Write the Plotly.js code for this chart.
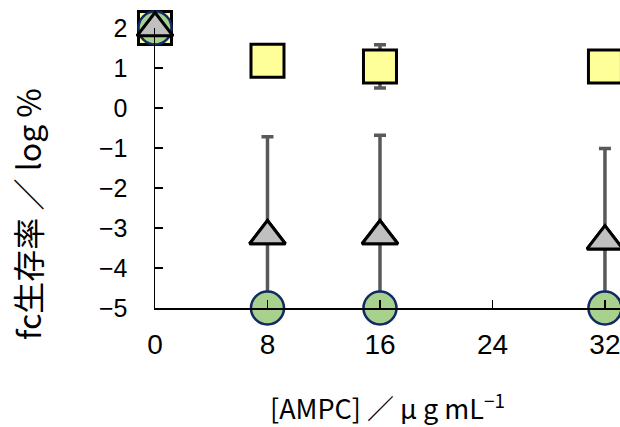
<!DOCTYPE html>
<html><head><meta charset="utf-8">
<script src="https://cdn.plot.ly/plotly-3.0.1.min.js"></script>
<style>html,body{margin:0;padding:0;background:#fff}#chart{width:620px;height:427px}</style>
</head><body><div id="chart"></div>
<script>
// Data
const conc = [0, 8, 16, 32];
const squareY = [2, 1.18, 1.04, 1.04];
const squareErr = [0, 0, 0.54, 0];
const triangleY = [2, -3.2, -3.2, -3.33];
const triangleErrPlus = [0, 2.48, 2.52, 2.32];
const triangleErrMinus = [0, 1.8, 1.8, 1.67];
const circleY = [2, -5, -5, -5];
const xTicks = [0, 8, 16, 24, 32];
const yTicks = [-5, -4, -3, -2, -1, 0, 1, 2];

const errColor = '#595959';
const traces = [
  {x: conc, y: squareY, mode: 'markers', type: 'scatter', cliponaxis: false,
   marker: {symbol: 'square', size: 33, color: '#FFFF99', line: {color: '#000', width: 3}},
   error_y: {type: 'data', array: squareErr, visible: true, color: errColor, thickness: 3.5, width: 6}},
  {x: conc, y: triangleY, mode: 'markers', type: 'scatter', cliponaxis: false,
   marker: {symbol: 'triangle-up', size: 31, color: '#C0C0C0', line: {color: '#000', width: 3}},
   error_y: {type: 'data', symmetric: false, array: triangleErrPlus, arrayminus: triangleErrMinus,
             visible: true, color: errColor, thickness: 3.5, width: 6}},
  {x: conc, y: circleY, mode: 'markers', type: 'scatter', cliponaxis: false,
   marker: {symbol: 'circle', size: 33, color: '#A9D18E', line: {color: '#102A63', width: 2.5}}},
  {x: conc, y: triangleY, mode: 'markers', type: 'scatter', cliponaxis: false,
   marker: {symbol: 'triangle-up', size: 31, color: '#C0C0C0', line: {color: '#000', width: 3}}}
];

const layout = {
  width: 620, height: 427,
  margin: {l: 155, r: 0, t: 28, b: 119},
  paper_bgcolor: '#fff', plot_bgcolor: 'rgba(0,0,0,0)',
  showlegend: false,
  xaxis: {range: [0, 33.07], tickvals: xTicks, ticktext: xTicks.map(String),
          showgrid: false, zeroline: false, showline: true, linecolor: '#000', linewidth: 1.5,
          ticks: 'inside', ticklen: 8, tickwidth: 1.5, tickcolor: '#000', ticklabeloverflow: 'allow',
          tickfont: {family: 'Liberation Sans, Arial, sans-serif', size: 28, color: '#000'}, ticklabelstandoff: 11},
  yaxis: {range: [-5, 2], tickvals: yTicks, ticktext: yTicks.map(v => v < 0 ? '\u2212' + Math.abs(v) : String(v)),
          showgrid: false, zeroline: false, showline: true, linecolor: '#000', linewidth: 1.5,
          ticks: 'inside', ticklen: 8, tickwidth: 1.5, tickcolor: '#000',
          tickfont: {family: 'Liberation Sans, Arial, sans-serif', size: 25, color: '#000'}, ticklabelstandoff: 21},
  annotations: [
    {text: 'fc生存率 ／ log %', xref: 'paper', yref: 'paper', x: -0.275, y: 0.336, yanchor: 'middle', xanchor: 'center',
     textangle: -90, showarrow: false, font: {family: 'Noto Sans CJK JP', size: 32, color: '#000'}},
    {text: '[AMPC] ／ μ g mL<sup>−1</sup>', xref: 'paper', yref: 'paper', x: 0.5, y: -0.352, xanchor: 'center', yanchor: 'middle',
     showarrow: false, font: {family: 'Noto Sans CJK JP', size: 27, color: '#000'}}
  ]
};
Plotly.newPlot('chart', traces, layout, {displayModeBar: false, staticPlot: true});
</script></body></html>
